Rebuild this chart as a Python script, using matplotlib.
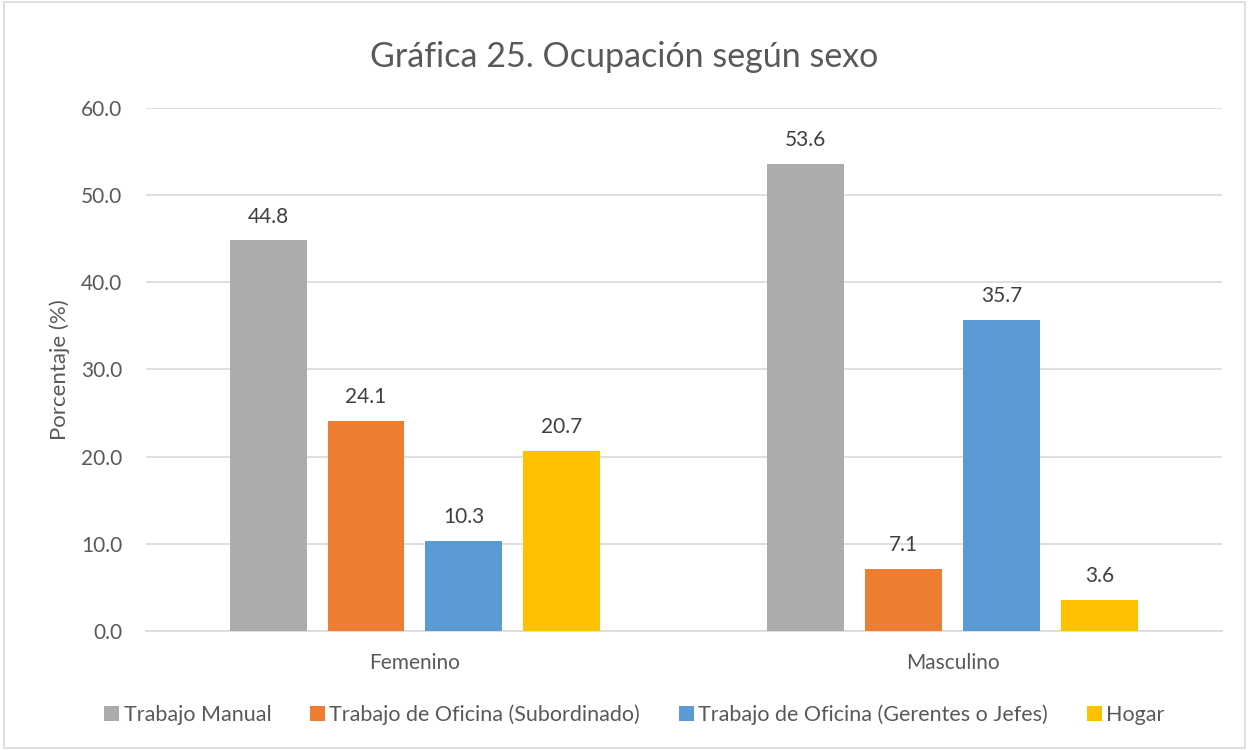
import numpy as np
import matplotlib.pyplot as plt
from matplotlib.patches import Rectangle

plt.rcParams['font.family'] = ['Lato', 'DejaVu Sans']

categories = ['Femenino', 'Masculino']
series = ['Trabajo Manual', 'Trabajo de Oficina (Subordinado)',
          'Trabajo de Oficina (Gerentes o Jefes)', 'Hogar']
values = [
    [44.8, 53.6],
    [24.1, 7.1],
    [10.3, 35.7],
    [20.7, 3.6],
]
colors = ['#AEABAB', '#ED7D31', '#5B9BD5', '#FFC000']
txt = '#595959'

fig = plt.figure(figsize=(12.49, 7.5), dpi=100)
ax = fig.add_axes([0.117, 0.1587, 0.861, 0.6973])

x = np.arange(len(categories))
step = 0.182
width = 0.143
for i, (name, vals) in enumerate(zip(series, values)):
    pos = x + (i - 1.5) * step
    bars = ax.bar(pos, vals, width, color=colors[i], label=name, zorder=3)
    for b, v in zip(bars, vals):
        ax.text(b.get_x() + b.get_width() / 2, v + 1.6, f'{v:.1f}',
                ha='center', va='bottom', fontsize=15, color='#404040')

ax.set_xlim(-0.5, 1.5)
ax.set_ylim(0, 60)
ax.set_yticks(np.arange(0, 61, 10))
ax.set_yticklabels([f'{t:.1f}' for t in np.arange(0, 61, 10)])
ax.set_xticks(x)
ax.set_xticklabels(categories)
ax.grid(axis='y', color='#D9D9D9', linewidth=1.2, zorder=0)
for s in ['top', 'right', 'left']:
    ax.spines[s].set_visible(False)
ax.spines['bottom'].set_color('#D9D9D9')
ax.spines['bottom'].set_linewidth(1.2)
ax.tick_params(axis='both', length=0, labelsize=15, labelcolor=txt)
ax.tick_params(axis='y', pad=17)
ax.tick_params(axis='x', pad=16)
ax.set_ylabel('Porcentaje (%)', fontsize=16, color=txt, labelpad=8)

fig.suptitle('Gráfica 25. Ocupación según sexo', fontsize=24.5, color=txt,
             y=0.945)

fig.legend(loc='center', bbox_to_anchor=(0.508, 0.047), ncol=4, frameon=False,
           fontsize=15.5, labelcolor=txt, handlelength=0.7, handleheight=0.7,
           handletextpad=0.2, columnspacing=1.8)

fig.patches.append(Rectangle((0.003, 0.003), 0.994, 0.994, transform=fig.transFigure,
                             fill=False, edgecolor='#D9D9D9', linewidth=1.2))

fig.savefig('out.png', dpi=100)
